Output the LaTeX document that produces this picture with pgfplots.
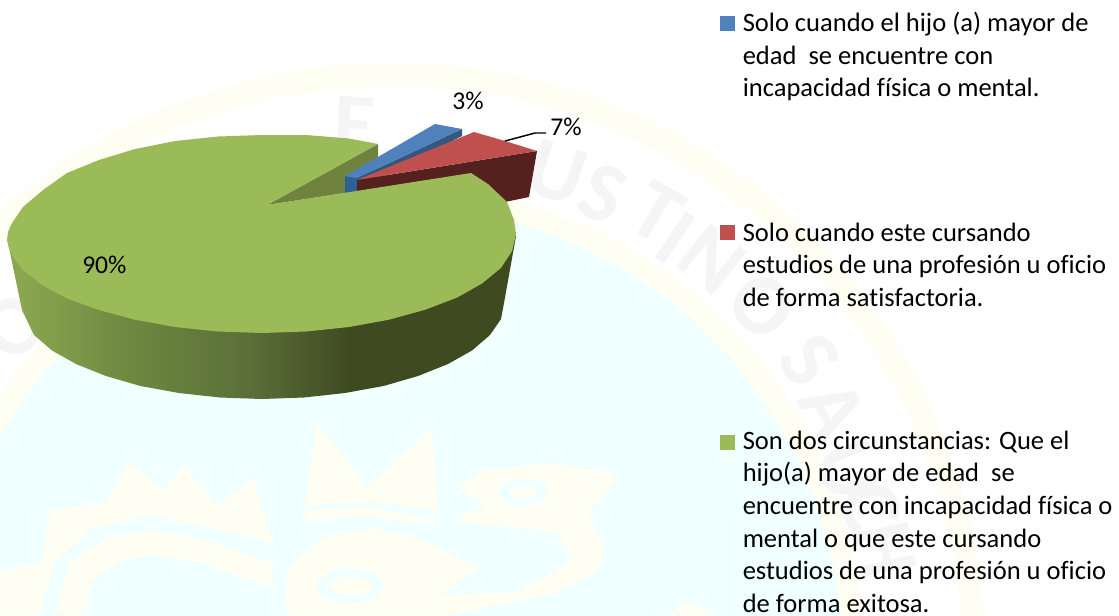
\documentclass[border=0pt]{standalone}
\usepackage{pgfplots}
\pgfplotsset{compat=1.18}
\usepackage{fontspec}
\setmainfont{Carlito}[Ligatures=NoCommon]
\definecolor{pblue}{HTML}{4F81BD}
\definecolor{pbluedk}{HTML}{34577F}
\definecolor{pbluehub}{HTML}{2F5F97}
\definecolor{pred}{HTML}{C0504D}
\definecolor{preddk}{HTML}{54211F}
\definecolor{pgreen}{HTML}{9BBB59}
\definecolor{polive}{HTML}{6F833F}
\definecolor{wyel}{HTML}{FEFEF2}
\definecolor{wcy}{HTML}{F0FFFF}
\definecolor{wgr}{HTML}{F5F5F5}
\definecolor{sa}{HTML}{8AA650}
\definecolor{sb}{HTML}{6E8840}
\definecolor{sc}{HTML}{5A6F38}
\definecolor{sd}{HTML}{3F4A21}
\pgfdeclarehorizontalshading{pieside}{100bp}{color(0bp)=(sa); color(26.5bp)=(sa); color(37bp)=(sb); color(49bp)=(sc); color(58.7bp)=(sd); color(100bp)=(sd)}
\pgfplotsset{canvas/.style={at={(0pt,0pt)},anchor=south west,scale only axis,width=839.25pt,height=461.25pt,
  xmin=0,xmax=1119,ymin=0,ymax=615,y dir=reverse,hide axis}}
\newcommand{\fs}{\fontsize{19.9pt}{24pt}\selectfont}
\newcommand{\fl}{\fontsize{19.2pt}{24pt}\selectfont}
\newcommand{\wl}[4]{\node[text=wgr,rotate=#4,font=\fontsize{64pt}{64pt}\selectfont\bfseries] at (#1,#2) {#3};}
\newcommand{\lt}[3]{\node[anchor=base west,inner sep=0pt,font=\fs,text=black] at (#1,#2) {#3};}
\newcommand{\dl}[3]{\node[anchor=base west,inner sep=0pt,font=\fl,text=black] at (#1,#2) {#3};}
\begin{document}
\begin{tikzpicture}
\path[use as bounding box] (0pt,0pt) rectangle (839.25pt,461.25pt);
% background seal
\begin{axis}[canvas]
\fill[wyel] (393,655) circle [radius=592];
\fill[white] (393,655) circle [radius=569];
\fill[wyel] (393,655) circle [radius=470];
\fill[wcy] (393,655) circle [radius=449];
\fill[wyel] (0,572)--(41,562)--(50,510)--(106,503)--(129,462)--(163,490)--(183,465)--(218,507)--(253,478)--(273,543)--(152,515)--(92,528)--(55,562)--(39,615)--(0,615)--cycle;
\fill[wyel] (55,615)--(69,562)--(110,537)--(152,530)--(197,537)--(273,563)--(273,588)--(202,563)--(156,555)--(119,560)--(92,582)--(85,615)--cycle;
\fill[wyel] (305,505)--(317,423)--(367,487)--(432,428)--(438,510)--(376,502)--cycle;
\fill[wyel] (305,510)--(367,507)--(436,520)--(434,525)--(367,517)--(305,520)--cycle;
\fill[wyel] (287,615)--(285,592)--(289,568)--(321,538)--(372,528)--(422,540)--(480,568)--(438,595)--(519,592)--(560,568)--(572,555)--(556,532)--(459,522)--(457,515)--(487,508)--(455,485)--(487,470)--(551,463)--(611,472)--(613,483)--(588,513)--(604,548)--(597,572)--(551,595)--(459,613)--(450,615)--cycle;
\fill[wyel] (670,615)--(686,602)--(716,615)--cycle;
\fill[wcy] (523,492) ellipse [x radius=25,y radius=13];
\fill[wyel] (523,492) ellipse [x radius=14,y radius=6];
\fill[wcy] (350,586) ellipse [x radius=34,y radius=17];
\fill[wyel] (350,586) ellipse [x radius=22,y radius=9];
\wl{557}{173}{U}{-19}
\wl{603}{193}{S}{-24}
\wl{657}{213}{T}{-31}
\wl{675}{238}{I}{-34}
\wl{712}{260}{N}{-39}
\wl{762}{306}{O}{-46}
\wl{810}{360}{S}{-55}
\wl{833}{410}{A}{-61}
\wl{849}{470}{U}{-68}
\wl{871}{507}{C}{-73}
\wl{885}{550}{H}{-78}
\wl{355}{125}{E}{-3}
\wl{14}{327}{O}{50}
\end{axis}
% pie
\begin{axis}[canvas]
% green side wall
\addplot[draw=none,shading=pieside] coordinates {(7,238)(22,310)(34,335)(52,350.5)(76,364)(106,376)(140.5,386)(179,393)(220,397.5)(262,399)(304,397.5)(345,393)(383.5,386)(418,376)(448,364)(472,350.5)(490,335)(501,319)(504,303)(516,236)};
% notch wall
\addplot[draw=none,fill=polive] coordinates {(267,205)(378,144)(378,170)(345,193)};
% blue slice
\addplot[draw=none,fill=pbluehub] coordinates {(345,176)(357,178)(357,192)(345,193)};
\addplot[draw=none,fill=pbluedk] coordinates {(357,178)(462,129)(462,136)(357,190)};
\addplot[draw=none,fill=pblue] coordinates {(345,176)(435,124)(462,129)(357,178)};
% red slice
\addplot[draw=none,fill=preddk] coordinates {(357,180)(537,151)(529,197)(505,202)(357,191)};
\addplot[draw=none,fill=pred] coordinates {(357,180)(474,132)(505,141)(537,151)};
% green top
\addplot[draw=none,fill=pgreen] coordinates {(267,205)(378,144)(349,138.5)(306,135)(262,135)(218,136.5)(175,141)(135,149)(99,160)(67,173)(43,190)(23,207)(12,223)(8,232)(7,240)(9,248)(13,257)(23,270)(42,285)(67,298.5)(99,310)(135,319.7)(175,327)(218,331.5)(262,333)(306,331.5)(349,327)(389,319.7)(425,309.8)(457,297.6)(482,283.5)(501,267.9)(512,251.2)(516,234)(514,220)(507,202)(488,184)(471,173)};
% leader
\addplot[black,line width=1.1pt] coordinates {(505,141)(535,133)(546,133)};
% legend keys
\addplot[draw=none,fill=pblue] coordinates {(720,16)(735,16)(735,31)(720,31)};
\addplot[draw=none,fill=pred] coordinates {(720,225)(735,225)(735,240)(720,240)};
\addplot[draw=none,fill=pgreen] coordinates {(720,435)(735,435)(735,450)(720,450)};
% labels
\dl{452}{109}{3\%}
\dl{550}{135}{7\%}
\dl{82}{273}{90\%}
\lt{742.5}{31}{Solo cuando el hijo (a) mayor de}{}
\lt{742.5}{64}{edad\ \ se encuentre con}{}
\lt{742.5}{96.5}{incapacidad física o mental.}{}
\lt{742.5}{241}{Solo cuando este cursando}{}
\lt{742.5}{273.5}{estudios de una profesión u oficio}{}
\lt{742.5}{306}{de forma satisfactoria.}{}
\lt{742.5}{449}{Son dos circunstancias: Que el}{}
\lt{742.5}{481.5}{hijo(a) mayor de edad\ \ se}{}
\lt{742.5}{514}{encuentre con incapacidad física o}{}
\lt{742.5}{547}{mental o que este cursando}{}
\lt{742.5}{579.5}{estudios de una profesión u oficio}{}
\lt{742.5}{612}{de forma exitosa.}{}
\end{axis}
\end{tikzpicture}
\end{document}
